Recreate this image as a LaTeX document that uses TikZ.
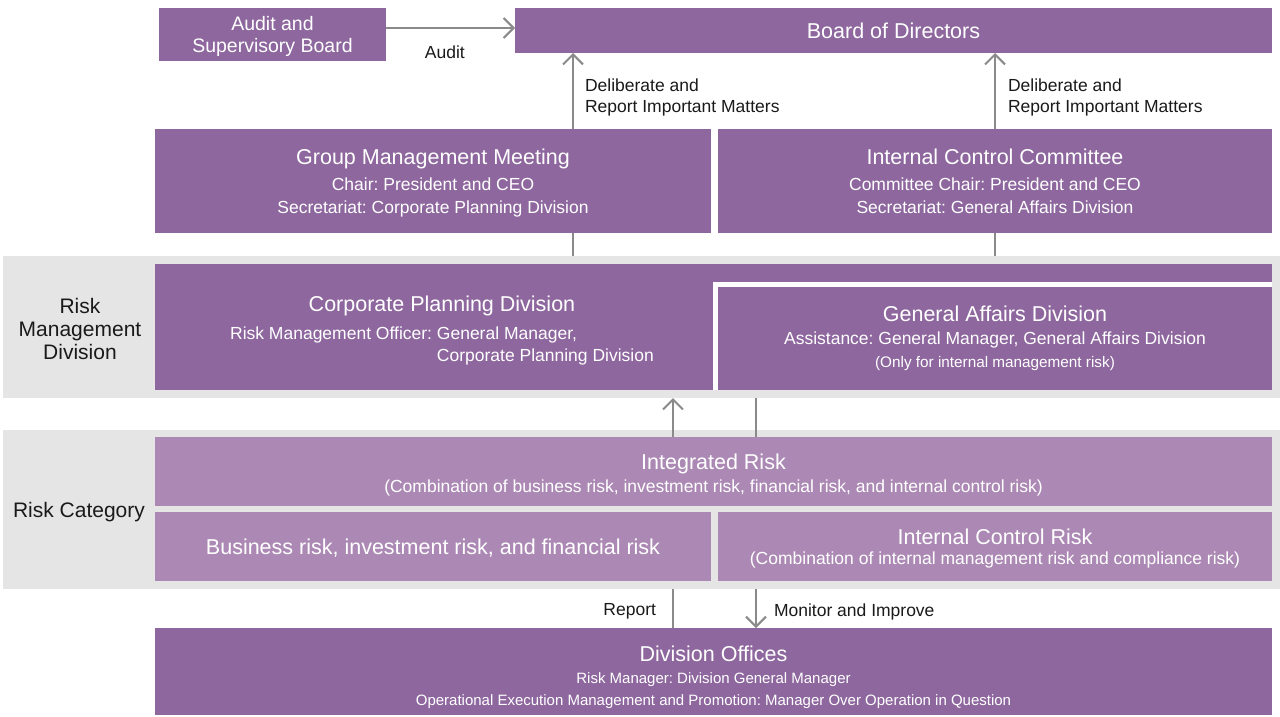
\documentclass[tikz,border=0pt]{standalone}
\usepackage{fontspec}
\setmainfont{Liberation Sans}
\usetikzlibrary{arrows.meta,calc}
\definecolor{dp}{HTML}{8E679E}
\definecolor{lp}{HTML}{AC89B4}
\definecolor{bandc}{HTML}{E5E5E5}
\definecolor{lnc}{HTML}{8A8A8A}
\definecolor{txt}{HTML}{1A1A1A}
\newcommand\fsz[2]{\fontsize{#1}{#2}\selectfont}
\newcommand\rectnode[7]{\node[#6,minimum width={(#4)-(#2)},minimum height={(#5)-(#3)}] (#1) at ({((#2)+(#4))/2},{((#3)+(#5))/2}) {#7};}
\newcommand\lowtab[2]{\raisebox{-#1}[\height][\depth]{\begin{tabular}{@{}c@{}}#2\end{tabular}}}
\AtBeginDocument{\frenchspacing}
\begin{document}
\begin{tikzpicture}[x=1pt,y=-1pt,
  rbox/.style={inner sep=0pt,outer sep=0pt,align=center},
  dbox/.style={rbox,fill=dp,text=white},
  lbox/.style={rbox,fill=lp,text=white},
  bandbox/.style={rbox,fill=bandc},
  lnk/.style={draw=lnc,line width=2pt},
  arr/.style={lnk,-{Straight Barb[length=10pt,width=20pt]}},
  lab/.style={text=txt,inner sep=0pt,font=\fsz{17.5}{21}},
  side/.style={text=txt,inner sep=0pt,align=center,font=\fsz{21}{23}}]
\fill[white] (0,0) rectangle (1280,716);
\useasboundingbox (0,0) rectangle (1280,716);
% top row
\rectnode{aud}{159}{8}{386}{61}{dbox,text depth=-2pt,font=\fsz{19.5}{21.6}}{Audit and\\Supervisory Board}
\rectnode{bod}{515}{8}{1272}{53}{dbox,text depth=-4pt,font=\fsz{21.5}{24}}{Board of Directors}
% committees
\rectnode{gmm}{155}{129}{711}{233}{dbox,text depth=0pt,font=\fsz{17.5}{23}}{{\fsz{21.5}{23}Group Management Meeting}\\[2.6pt]Chair: President and CEO\\Secretariat: Corporate Planning Division}
\rectnode{icc}{718}{129}{1272}{233}{dbox,text depth=0pt,font=\fsz{17.5}{23}}{{\fsz{21.5}{23}Internal Control Committee}\\[2.6pt]Committee Chair: President and CEO\\Secretariat: General Affairs Division}
% risk management division band
\rectnode{band1}{3}{256}{1280}{398}{bandbox}{}
\rectnode{cpd}{155}{264}{1272}{390}{dbox}{}
\node[text=white,inner sep=0pt,font=\fsz{17.5}{22}] (cpdt) at (442,332) {\begin{tabular}{@{}l@{}l@{}}\multicolumn{2}{@{}c@{}}{\fsz{21.5}{22}Corporate Planning Division}\\[5.6pt]Risk Management Officer:~\null&General Manager,\\&Corporate Planning Division\end{tabular}};
\rectnode{gad}{718}{287}{1272}{390}{dbox,font=\fsz{17.5}{23}}{{\fsz{21.5}{23}General Affairs Division}\\Assistance: General Manager, General Affairs Division\\{\fsz{15.3}{23}(Only for internal management risk)}}
\draw[white,line width=5.5pt] ($(gad.south west)+(-2.75,0)$) -- ($(gad.north west)+(-2.75,-2.75)$) -- ($(gad.north east)+(0,-2.75)$);
\node[side] (rmd) at (80,328.5) {Risk\\Management\\Division};
% risk category band
\rectnode{band2}{3}{430}{1280}{589}{bandbox}{}
\rectnode{ir}{155}{437}{1272}{506}{lbox,font=\fsz{17.5}{23.5}}{\lowtab{5pt}{{\fsz{21.5}{23.5}Integrated Risk}\\(Combination of business risk, investment risk, financial risk, and internal control risk)}}
\rectnode{brk}{155}{512}{711}{581}{lbox,text depth=-0.8pt,font=\fsz{21.5}{24}}{Business risk, investment risk, and financial risk}
\rectnode{icr}{718}{512}{1272}{581}{lbox,text depth=0pt,font=\fsz{17.5}{20.5}}{{\fsz{21.5}{20.5}Internal Control Risk}\\(Combination of internal management risk and compliance risk)}
\node[side] (rc) at (79,512) {Risk Category};
% division offices
\rectnode{dof}{155}{628}{1272}{715}{dbox,font=\fsz{15}{22}}{\lowtab{7pt}{{\fsz{21.5}{22}Division Offices}\\Risk Manager: Division General Manager\\Operational Execution Management and Promotion: Manager Over Operation in Question}}
% connectors
\draw[arr] ($(aud.east)+(0,-6.5)$) -- node[lab,pos=0.456,yshift=-24pt]{Audit} ($(bod.west)+(0,-2.5)$);
\coordinate (g1) at ($(gmm.north)+(140,0)$);
\draw[arr] (g1) -- node[lab,pos=0.44,right=11pt,yshift=-2pt,align=left]{Deliberate and\\Report Important Matters} (g1 |- bod.south);
\draw[lnk] (gmm.south -| g1) -- (band1.north -| g1);
\draw[arr] (icc.north) -- node[lab,pos=0.44,right=12pt,yshift=-2pt,align=left]{Deliberate and\\Report Important Matters} (icc.north |- bod.south);
\draw[lnk] (icc.south) -- (icc.south |- band1.north);
\coordinate (a1) at ($(ir.north)+(-40.5,0)$);
\coordinate (a2) at ($(ir.north)+(42.5,0)$);
\draw[arr] (a1) -- (a1 |- band1.south);
\draw[lnk] (a2) -- (a2 |- band1.south);
\draw[lnk] (band2.south -| a1) -- node[lab,left=16pt,yshift=-3pt]{Report} (dof.north -| a1);
\draw[arr] (band2.south -| a2) -- node[lab,right=17pt,yshift=-3pt]{Monitor and Improve} (dof.north -| a2);
\end{tikzpicture}
\end{document}
